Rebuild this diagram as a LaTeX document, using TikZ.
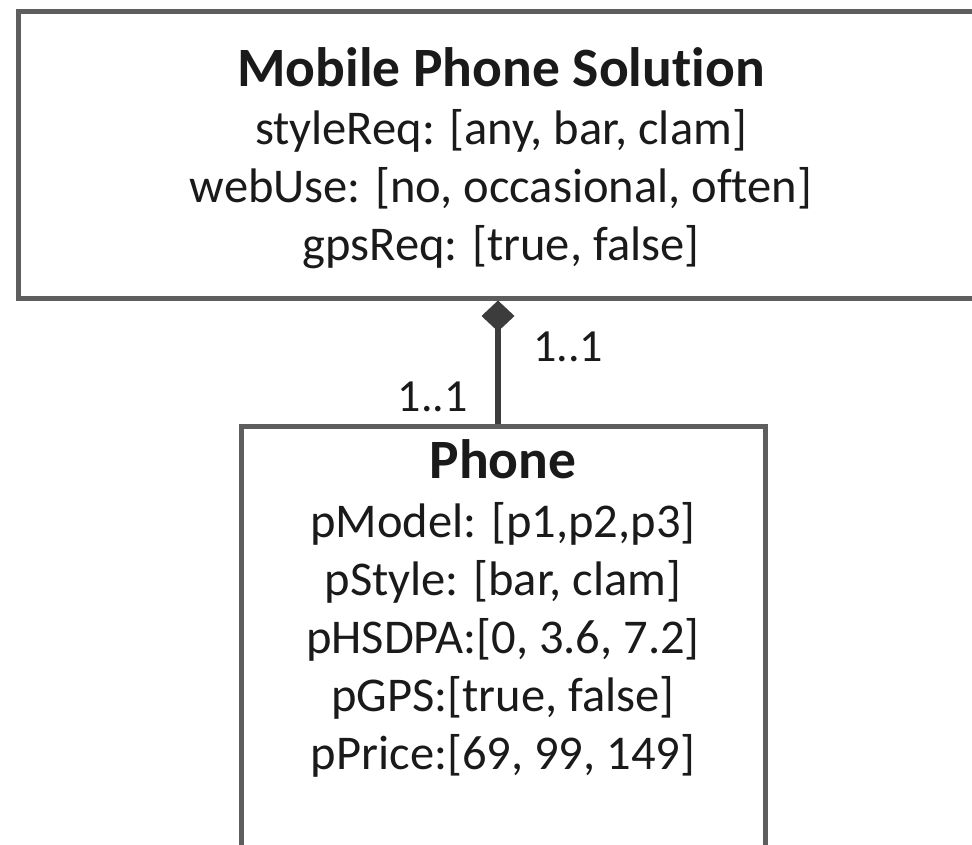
\documentclass[tikz,border=0pt]{standalone}
\usepackage{fontspec}
\setmainfont{Carlito}[RawFeature=-liga]
\usetikzlibrary{arrows.meta}
\definecolor{boxgray}{HTML}{5E5E5E}
\definecolor{conngray}{HTML}{3C3C3C}
\definecolor{txt}{HTML}{1A1A1A}
\tikzset{
  umlbox/.style={draw=boxgray, line width=5pt, rectangle, fill=white, inner sep=0pt},
  title/.style={anchor=base, text=txt, font=\fontsize{55.5}{60}\selectfont\bfseries, inner sep=0pt},
  attr/.style={anchor=base, text=txt, font=\fontsize{48.5}{54}\selectfont, inner sep=0pt},
  mult/.style={text=txt, font=\fontsize{46}{50}\selectfont, inner sep=0pt},
  conn/.style={draw=conngray, line width=6pt},
}
\begin{document}
\begin{tikzpicture}[x=1pt,y=-1pt]
\useasboundingbox (0,0) rectangle (972,845);
\clip (0,0) rectangle (972,845);
\fill[white] (0,0) rectangle (972,845);
% boxes
\node[umlbox, minimum width=964pt, minimum height=286pt] (sol) at (500,155) {};
\node[umlbox, minimum width=524pt, minimum height=460pt] (phone) at (503,656) {};
% top box text
\node[title] (solT) at (501,87) {Mobile Phone Solution};
\node[attr] (solA) at (501,145) {styleReq: [any, bar, clam]};
\node[attr] (solB) at (501,203) {webUse: [no, occasional, often]};
\node[attr] (solC) at (501,261) {gpsReq: [true, false]};
% bottom box text
\node[title] (phT) at (503,478) {Phone};
\node[attr] (phA) at (503,537) {pModel: [p1,p2,p3]};
\node[attr] (phB) at (503,595) {pStyle: [bar, clam]};
\node[attr] (phC) at (503,653) {pHSDPA:[0, 3.6, 7.2]};
\node[attr] (phD) at (503,711) {pGPS:[true, false]};
\node[attr] (phE) at (503,769) {pPrice:[69, 99, 149]};
% connector
\draw[conn, {Diamond[length=31pt,width=33pt,fill=conngray]}-]
  ([xshift=-5pt]phone.north |- sol.south) -- ([xshift=-5pt]phone.north);
% multiplicities
\node[mult, anchor=base west] (m1) at (533,361) {1..1};
\node[mult, anchor=base east] (m2) at (468,411) {1..1};
\end{tikzpicture}
\end{document}
